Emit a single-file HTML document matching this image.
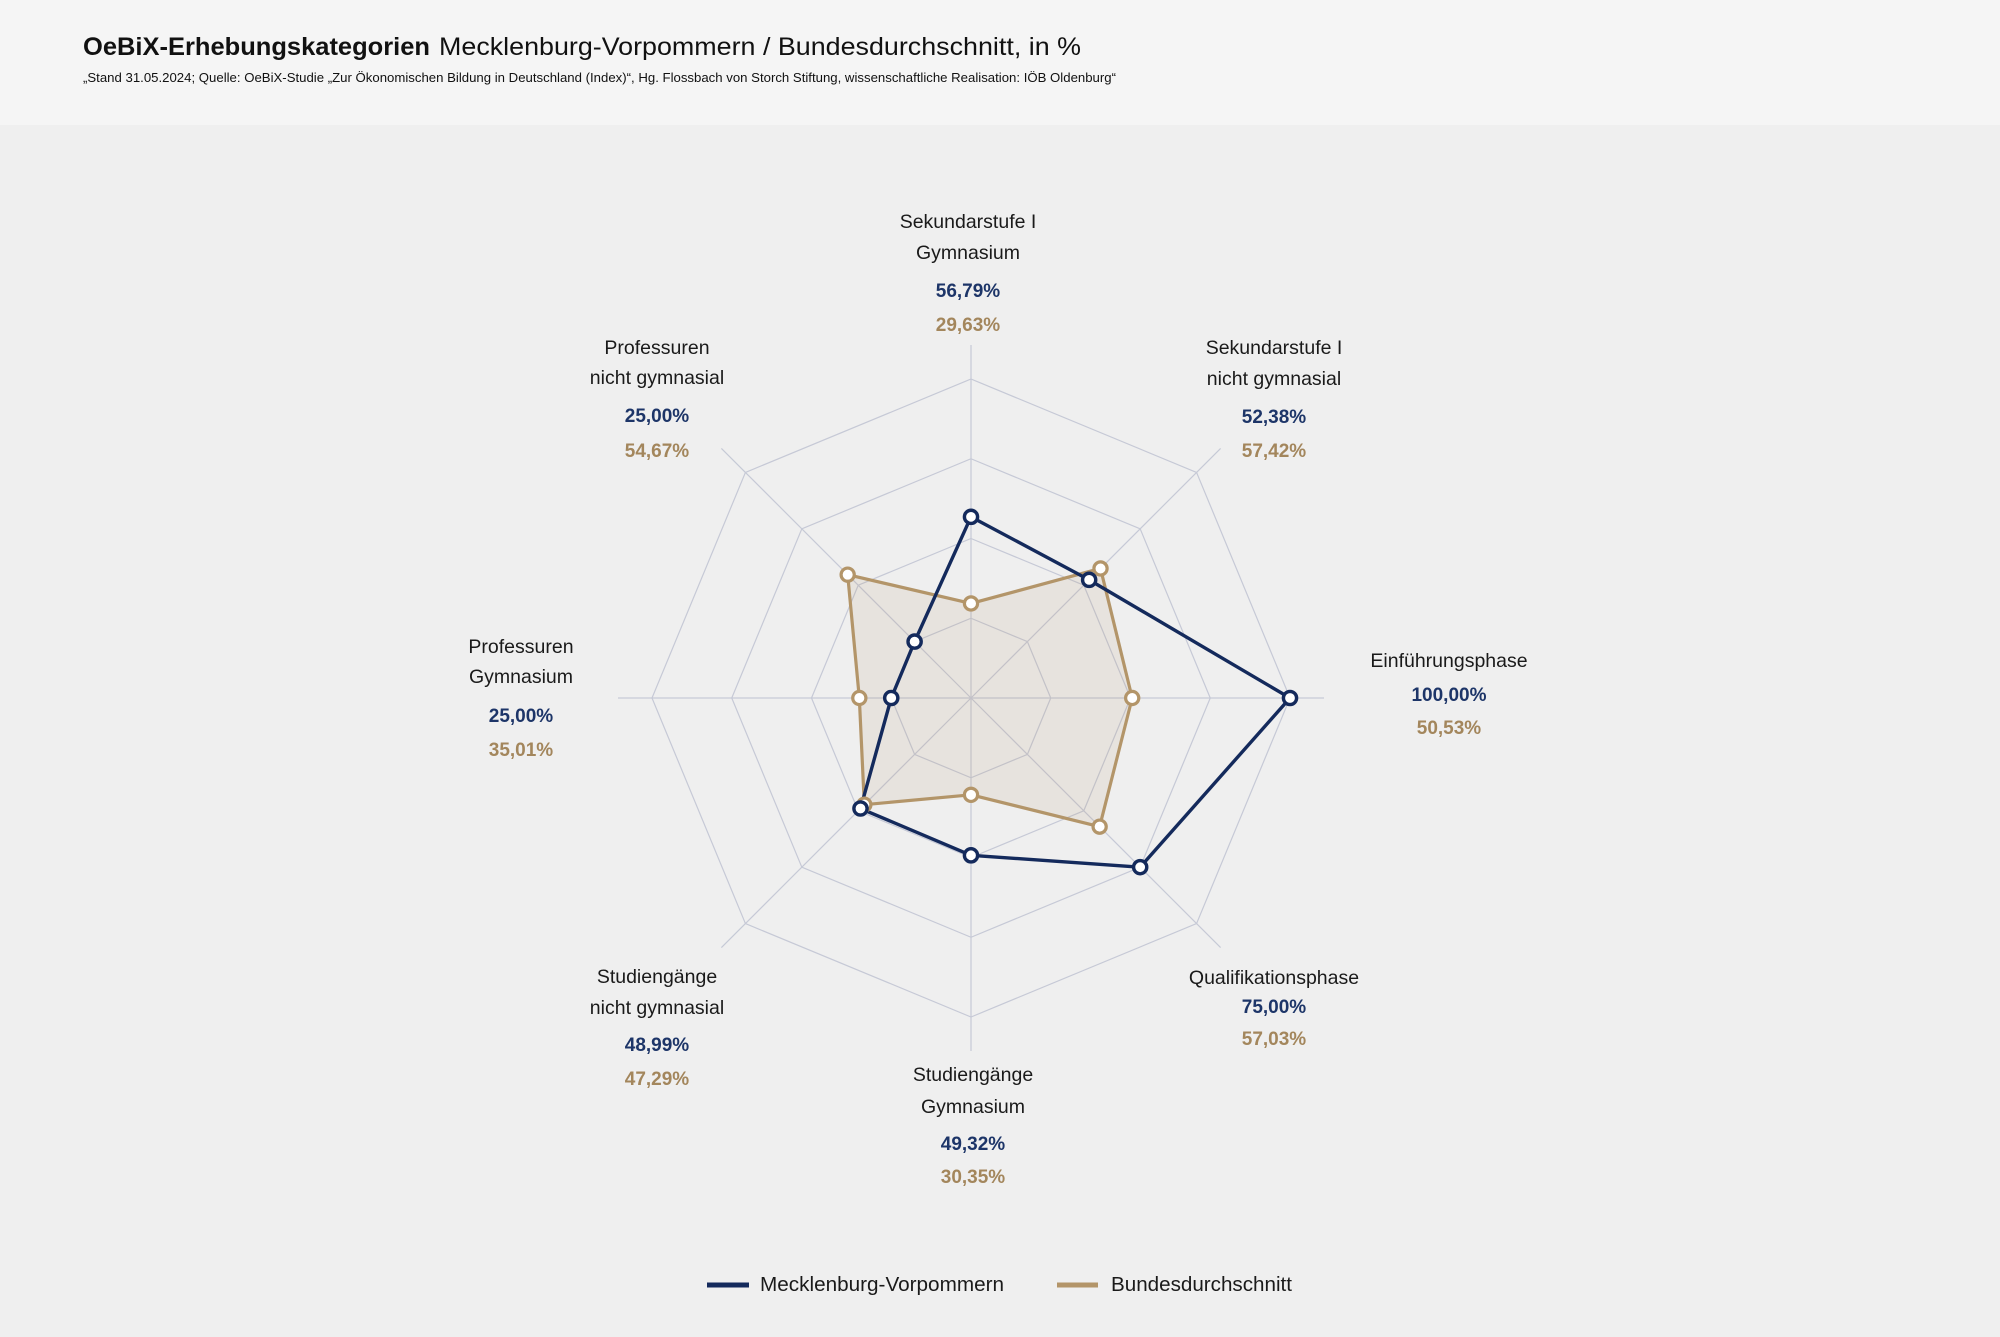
<!DOCTYPE html>
<html>
<head>
<meta charset="utf-8">
<style>
  html, body { margin: 0; padding: 0; width: 2000px; height: 1337px; overflow: hidden; background: #efefef; }
  svg { display: block; }
  text { font-family: "Liberation Sans", Arial, sans-serif; }
  .lab { font-size: 19.5px; fill: #1a1a1a; text-anchor: middle; }
  .vn { font-size: 19px; font-weight: bold; fill: #1d3568; text-anchor: middle; }
  .vt { font-size: 19px; font-weight: bold; fill: #a3865c; text-anchor: middle; }
</style>
</head>
<body>
<svg width="2000" height="1337" viewBox="0 0 2000 1337" xmlns="http://www.w3.org/2000/svg">
  <!-- backgrounds -->
  <rect x="0" y="0" width="2000" height="1337" fill="#efefef"/>
  <rect x="0" y="0" width="2000" height="125" fill="#f5f5f5"/>

  <!-- title -->
  <text x="83" y="55" font-size="25" font-weight="bold" fill="#111" textLength="347" lengthAdjust="spacingAndGlyphs">OeBiX-Erhebungskategorien</text>
  <text x="439" y="55" font-size="25" fill="#111" textLength="642" lengthAdjust="spacingAndGlyphs">Mecklenburg-Vorpommern / Bundesdurchschnitt, in %</text>
  <text x="83" y="82" font-size="12.5" fill="#111" textLength="1033" lengthAdjust="spacingAndGlyphs">„Stand 31.05.2024; Quelle: OeBiX-Studie „Zur Ökonomischen Bildung in Deutschland (Index)“, Hg. Flossbach von Storch Stiftung, wissenschaftliche Realisation: IÖB Oldenburg“</text>

  <!-- grid -->
  <g fill="none" stroke="#c6c9d6" stroke-width="1.2">
    <polygon points="971,618.25 1027.39,641.61 1050.75,698 1027.39,754.39 971,777.75 914.61,754.39 891.25,698 914.61,641.61"/>
    <polygon points="971,538.5 1083.78,585.22 1130.5,698 1083.78,810.78 971,857.5 858.22,810.78 811.5,698 858.22,585.22"/>
    <polygon points="971,458.75 1140.17,528.83 1210.25,698 1140.17,867.17 971,937.25 801.83,867.17 731.75,698 801.83,528.83"/>
    <polygon points="971,379 1196.57,472.43 1290,698 1196.57,923.57 971,1017 745.43,923.57 652,698 745.43,472.43"/>
    <line x1="971" y1="698" x2="971" y2="345"/>
    <line x1="971" y1="698" x2="1220.61" y2="448.39"/>
    <line x1="971" y1="698" x2="1324" y2="698"/>
    <line x1="971" y1="698" x2="1220.61" y2="947.61"/>
    <line x1="971" y1="698" x2="971" y2="1051"/>
    <line x1="971" y1="698" x2="721.39" y2="947.61"/>
    <line x1="971" y1="698" x2="618" y2="698"/>
    <line x1="971" y1="698" x2="721.39" y2="448.39"/>
  </g>

  <!-- Bundesdurchschnitt -->
  <polygon points="971,603.48 1100.52,568.48 1132.19,698 1099.64,826.64 971,794.82 864.33,804.67 859.32,698 847.68,574.68"
           fill="#b0936a" fill-opacity="0.13" stroke="#b39569" stroke-width="3.2" stroke-linejoin="round"/>

  <!-- Mecklenburg-Vorpommern -->
  <polygon points="971,516.84 1089.15,579.85 1290,698 1140.17,867.17 971,855.33 860.49,808.51 891.25,698 914.61,641.61"
           fill="none" stroke="#142a5c" stroke-width="3.4" stroke-linejoin="round"/>

  <!-- dots Bund -->
  <g fill="#ffffff" stroke="#b39569" stroke-width="3.2">
    <circle cx="971" cy="603.48" r="6.6"/>
    <circle cx="1100.52" cy="568.48" r="6.6"/>
    <circle cx="1132.19" cy="698" r="6.6"/>
    <circle cx="1099.64" cy="826.64" r="6.6"/>
    <circle cx="971" cy="794.82" r="6.6"/>
    <circle cx="864.33" cy="804.67" r="6.6"/>
    <circle cx="859.32" cy="698" r="6.6"/>
    <circle cx="847.68" cy="574.68" r="6.6"/>
  </g>
  <!-- dots MV -->
  <g fill="#ffffff" stroke="#142a5c" stroke-width="3.4">
    <circle cx="971" cy="516.84" r="6.6"/>
    <circle cx="1089.15" cy="579.85" r="6.6"/>
    <circle cx="1290" cy="698" r="6.6"/>
    <circle cx="1140.17" cy="867.17" r="6.6"/>
    <circle cx="971" cy="855.33" r="6.6"/>
    <circle cx="860.49" cy="808.51" r="6.6"/>
    <circle cx="891.25" cy="698" r="6.6"/>
    <circle cx="914.61" cy="641.61" r="6.6"/>
  </g>

  <!-- labels: top -->
  <text class="lab" x="968" y="228">Sekundarstufe I</text>
  <text class="lab" x="968" y="259">Gymnasium</text>
  <text class="vn" x="968" y="297">56,79%</text>
  <text class="vt" x="968" y="331">29,63%</text>

  <!-- top-right -->
  <text class="lab" x="1274" y="354">Sekundarstufe I</text>
  <text class="lab" x="1274" y="385">nicht gymnasial</text>
  <text class="vn" x="1274" y="423">52,38%</text>
  <text class="vt" x="1274" y="457">57,42%</text>

  <!-- right -->
  <text class="lab" x="1449" y="667">Einführungsphase</text>
  <text class="vn" x="1449" y="701">100,00%</text>
  <text class="vt" x="1449" y="734">50,53%</text>

  <!-- bottom-right -->
  <text class="lab" x="1274" y="984">Qualifikationsphase</text>
  <text class="vn" x="1274" y="1013">75,00%</text>
  <text class="vt" x="1274" y="1045">57,03%</text>

  <!-- bottom -->
  <text class="lab" x="973" y="1081">Studiengänge</text>
  <text class="lab" x="973" y="1113">Gymnasium</text>
  <text class="vn" x="973" y="1150">49,32%</text>
  <text class="vt" x="973" y="1183">30,35%</text>

  <!-- bottom-left -->
  <text class="lab" x="657" y="983">Studiengänge</text>
  <text class="lab" x="657" y="1014">nicht gymnasial</text>
  <text class="vn" x="657" y="1051">48,99%</text>
  <text class="vt" x="657" y="1085">47,29%</text>

  <!-- left -->
  <text class="lab" x="521" y="653">Professuren</text>
  <text class="lab" x="521" y="683">Gymnasium</text>
  <text class="vn" x="521" y="722">25,00%</text>
  <text class="vt" x="521" y="756">35,01%</text>

  <!-- top-left -->
  <text class="lab" x="657" y="354">Professuren</text>
  <text class="lab" x="657" y="384">nicht gymnasial</text>
  <text class="vn" x="657" y="422">25,00%</text>
  <text class="vt" x="657" y="457">54,67%</text>

  <!-- legend -->
  <line x1="707" y1="1285" x2="749" y2="1285" stroke="#142a5c" stroke-width="5"/>
  <text x="760" y="1291" font-size="20.5" fill="#1a1a1a" textLength="244" lengthAdjust="spacingAndGlyphs">Mecklenburg-Vorpommern</text>
  <line x1="1057" y1="1285" x2="1098" y2="1285" stroke="#b39569" stroke-width="5"/>
  <text x="1111" y="1291" font-size="20.5" fill="#1a1a1a" textLength="181" lengthAdjust="spacingAndGlyphs">Bundesdurchschnitt</text>
</svg>
</body>
</html>
